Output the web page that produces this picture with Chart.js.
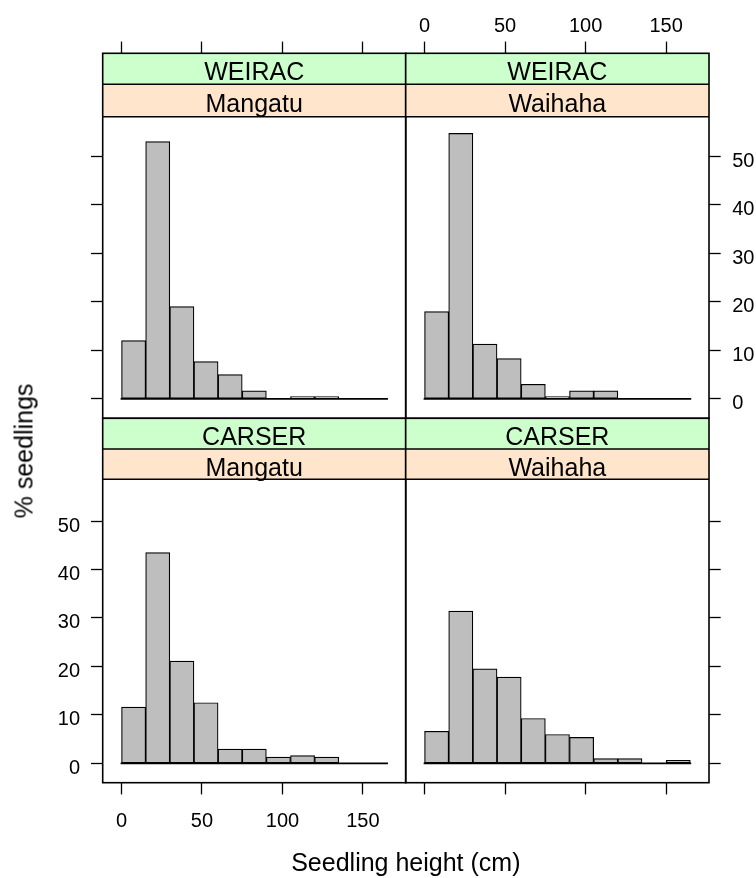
<!DOCTYPE html>
<html>
<head>
<meta charset="utf-8">
<title>Seedling height histograms</title>
<script src="https://cdn.jsdelivr.net/npm/chart.js@4.4.1/dist/chart.umd.min.js"></script>
<style>
  html, body { margin: 0; padding: 0; background: #fff; overflow: hidden; }
  #wrap { position: relative; width: 756px; height: 878px; overflow: hidden; font-family: 'Liberation Sans', Arial, sans-serif; color: #000; }
  #wrap canvas { position: absolute; left: 0; top: 0; }
  .strip { position: absolute; text-align: center; font-size: 25px; white-space: nowrap; }
  .axtitle { position: absolute; font-size: 25px; white-space: nowrap; transform: translate(-50%, -50%); }
</style>
</head>
<body>
<div id="wrap"></div>
<script>
// histogram bins (cm) and % of seedlings per bin
const binEdges = [0, 15, 30, 45, 60, 75, 90, 105, 120, 135, 150, 165];
const speciesNames = ['WEIRAC', 'CARSER'];
const siteNames = ['Mangatu', 'Waihaha'];
const weiracMangatu = [12.0, 53.0, 19.0, 7.7, 5.0, 1.65, 0, 0.5, 0.5, 0, 0];
const weiracWaihaha = [18.0, 54.7, 11.3, 8.3, 3.0, 0.5, 1.65, 1.65, 0, 0, 0];
const carserMangatu = [11.6, 43.5, 21.1, 12.5, 2.95, 2.95, 1.3, 1.6, 1.3, 0, 0];
const carserWaihaha = [6.6, 31.4, 19.5, 17.8, 9.25, 5.95, 5.35, 0.96, 0.96, 0, 0.6];
const xTickValues = [0, 50, 100, 150];
const yTickValues = [0, 10, 20, 30, 40, 50];

const xTitle = 'Seedling height (cm)';
const yTitle = '% seedlings';

// page geometry of the lattice
const colLeft = [102.7, 405.7], colRight = [405.7, 709];
const rowTop = [53.3, 418.3], rowBottom = [418.3, 782.7];
const stripHeights = [[31, 32.4], [30.7, 30.3]];
const stripColors = ['#CCFFCC', '#FFE5CC'];
const xMin = -11.7, xMax = 176.6;
const yMin = -4, yMax = 71.2;

const panels = [
  { row: 0, col: 0, species: speciesNames[0], site: siteNames[0], values: weiracMangatu },
  { row: 0, col: 1, species: speciesNames[0], site: siteNames[1], values: weiracWaihaha },
  { row: 1, col: 0, species: speciesNames[1], site: siteNames[0], values: carserMangatu },
  { row: 1, col: 1, species: speciesNames[1], site: siteNames[1], values: carserWaihaha }
];

Chart.defaults.font.family = "'Liberation Sans', Arial, sans-serif";
Chart.defaults.font.size = 20;
Chart.defaults.color = '#000';

const panelFrame = {
  id: 'panelFrame',
  beforeDatasetsDraw(chart, args, opts) {
    const { ctx, chartArea: a } = chart;
    let y = a.top;
    ctx.save();
    opts.heights.forEach((h, i) => {
      ctx.fillStyle = stripColors[i];
      ctx.fillRect(a.left, y, a.right - a.left, h);
      y += h;
    });
    ctx.restore();
  },
  afterDatasetsDraw(chart, args, opts) {
    const { ctx, chartArea: a } = chart;
    ctx.save();
    ctx.strokeStyle = '#000';
    ctx.lineWidth = 1.6;
    let y = a.top;
    opts.heights.forEach((h) => {
      y += h;
      ctx.beginPath();
      ctx.moveTo(a.left, y);
      ctx.lineTo(a.right, y);
      ctx.stroke();
    });
    ctx.strokeRect(a.left, a.top, a.right - a.left, a.bottom - a.top);
    ctx.restore();
  }
};

const wrap = document.getElementById('wrap');

panels.forEach((p) => {
  const L = colLeft[p.col], R = colRight[p.col];
  const T = rowTop[p.row], B = rowBottom[p.row];
  // y axis box reaches the page edge on the right so labels are not clipped
  const yW = p.col === 0 ? 60 : 756 - R;
  const xH = 50;
  const showX = (p.row === 0 && p.col === 1) || (p.row === 1 && p.col === 0);
  const showY = showX;

  const canvas = document.createElement('canvas');
  canvas.width = 756;
  canvas.height = 878;
  wrap.appendChild(canvas);

  const bars = p.values.map((v, i) => ({ x: (binEdges[i] + binEdges[i + 1]) / 2, y: v }));
  const baseline = [{ x: binEdges[0], y: 0 }, { x: binEdges[binEdges.length - 1], y: 0 }];

  new Chart(canvas, {
    type: 'bar',
    data: {
      datasets: [
        {
          type: 'bar',
          data: bars,
          backgroundColor: '#BEBEBE',
          borderColor: '#000',
          borderWidth: 1.2,
          borderSkipped: false,
          barPercentage: 1,
          categoryPercentage: 1,
          order: 2
        },
        {
          type: 'line',
          data: baseline,
          borderColor: '#000',
          borderWidth: 1.8,
          borderCapStyle: 'square',
          pointRadius: 0,
          order: 1
        }
      ]
    },
    options: {
      responsive: false,
      animation: false,
      events: [],
      layout: {
        padding: {
          left: p.col === 0 ? L - yW : L,
          right: p.col === 0 ? 756 - R : 756 - R - yW,
          top: p.row === 0 ? T - xH : T,
          bottom: p.row === 0 ? 878 - B : 878 - B - xH
        }
      },
      scales: {
        x: {
          type: 'linear',
          position: p.row === 0 ? 'top' : 'bottom',
          min: xMin,
          max: xMax,
          bounds: 'data',
          offset: false,
          afterBuildTicks: (s) => { s.ticks = xTickValues.map((v) => ({ value: v })); },
          afterFit: (s) => { s.height = xH; },
          grid: { offset: false, drawOnChartArea: false, drawTicks: true, tickLength: 11.7, tickColor: '#000', tickWidth: 1.3 },
          border: { display: false },
          ticks: { display: showX, color: '#000', padding: p.row === 0 ? 3 : 15, maxRotation: 0, autoSkip: false }
        },
        y: {
          type: 'linear',
          position: p.col === 0 ? 'left' : 'right',
          min: yMin,
          max: yMax,
          bounds: 'data',
          afterBuildTicks: (s) => { s.ticks = yTickValues.map((v) => ({ value: v })); },
          afterFit: (s) => { s.width = yW; },
          grid: { drawOnChartArea: false, drawTicks: true, tickLength: 11.7, tickColor: '#000', tickWidth: 1.3 },
          border: { display: false },
          ticks: { display: showY, color: '#000', padding: p.col === 0 ? 11 : 11.5, labelOffset: 5, autoSkip: false }
        }
      },
      plugins: {
        legend: { display: false },
        tooltip: { enabled: false },
        panelFrame: { heights: stripHeights[p.row] }
      }
    },
    plugins: [panelFrame]
  });

  // strip labels
  let y = T;
  [p.species, p.site].forEach((label, i) => {
    const h = stripHeights[p.row][i];
    const d = document.createElement('div');
    d.className = 'strip';
    d.style.left = L + 'px';
    d.style.width = (R - L) + 'px';
    d.style.top = (y + 3) + 'px';
    d.style.height = h + 'px';
    d.style.lineHeight = h + 'px';
    d.textContent = label;
    wrap.appendChild(d);
    y += h;
  });
});

const xt = document.createElement('div');
xt.className = 'axtitle';
xt.style.left = ((colLeft[0] + colRight[1]) / 2) + 'px';
xt.style.top = '862px';
xt.textContent = xTitle;
wrap.appendChild(xt);

const yt = document.createElement('div');
yt.className = 'axtitle';
yt.style.left = '24px';
yt.style.top = '451px';
yt.style.transform = 'translate(-50%, -50%) rotate(-90deg)';
yt.textContent = yTitle;
wrap.appendChild(yt);
</script>
</body>
</html>
